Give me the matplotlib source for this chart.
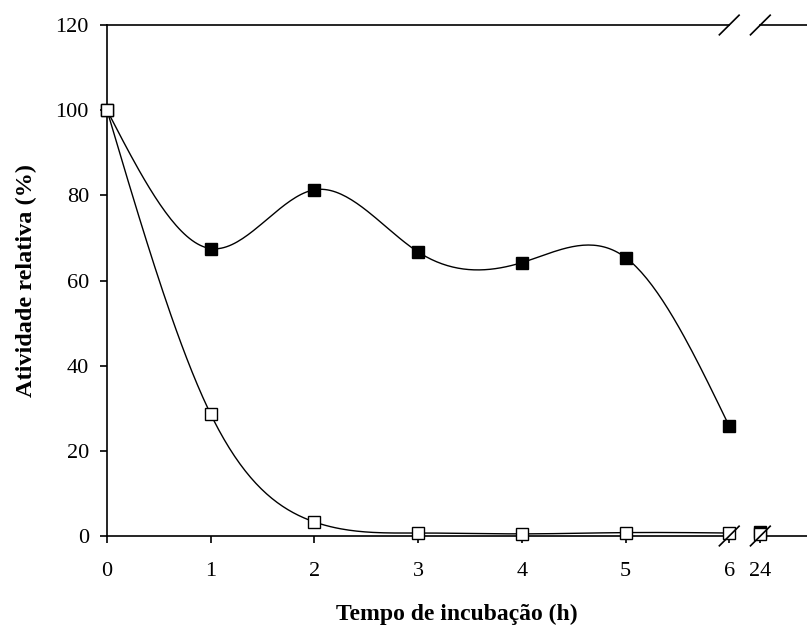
import numpy as np
import matplotlib
matplotlib.use("Agg")
import matplotlib.pyplot as plt

plt.rcParams['font.family'] = ['Liberation Serif', 'DejaVu Serif']

hours = [0, 1, 2, 3, 4, 5, 6]
hour_labels = ['0', '1', '2', '3', '4', '5', '6', '24']
filled = [100, 67.5, 81.3, 66.7, 64.2, 65.4, 25.8]
filled_24 = 1.0
opened = [100, 28.6, 3.3, 0.7, 0.5, 0.8, 0.7]
opened_24 = 0.5

POS24 = 6.3   # where "24" sits after the axis break
XMAX = 6.75


def smooth(x, y, n=40):
    # natural cubic spline
    x = np.asarray(x, float)
    y = np.asarray(y, float)
    k = len(x)
    h = np.diff(x)
    A = np.zeros((k, k))
    b = np.zeros(k)
    A[0, 0] = A[-1, -1] = 1
    for i in range(1, k - 1):
        A[i, i - 1] = h[i - 1]
        A[i, i] = 2 * (h[i - 1] + h[i])
        A[i, i + 1] = h[i]
        b[i] = 6 * ((y[i + 1] - y[i]) / h[i] - (y[i] - y[i - 1]) / h[i - 1])
    M = np.linalg.solve(A, b)
    ox, oy = [], []
    for i in range(k - 1):
        xs = np.linspace(x[i], x[i + 1], n)
        a = x[i + 1] - xs
        c = xs - x[i]
        ys = (M[i] * a ** 3 / 6 / h[i] + M[i + 1] * c ** 3 / 6 / h[i]
              + (y[i] / h[i] - M[i] * h[i] / 6) * a
              + (y[i + 1] / h[i] - M[i + 1] * h[i] / 6) * c)
        ox.extend(xs)
        oy.extend(ys)
    return ox, oy


fig = plt.figure(figsize=(8.07, 6.28), dpi=100)
ax = fig.add_axes([107 / 807, 1 - 536 / 628, 700 / 807, 511 / 628])

sx, sy = smooth(hours, filled)
ax.plot(sx, sy, color='black', lw=1, zorder=2, clip_on=False)
sx, sy = smooth(hours, opened)
ax.plot(sx, sy, color='black', lw=1, zorder=2, clip_on=False)

ax.plot(hours + [POS24], filled + [filled_24], 's', ms=8,
        mfc='black', mec='black', mew=1, ls='none', zorder=4, clip_on=False)
ax.plot(hours + [POS24], opened + [opened_24], 's', ms=8,
        mfc='white', mec='black', mew=1, ls='none', zorder=5, clip_on=False)

ax.set_xlim(0, XMAX)
ax.set_ylim(0, 120)
ax.spines['right'].set_visible(False)
ax.spines['top'].set_visible(False)
ax.spines['bottom'].set_visible(False)
ax.spines['left'].set_linewidth(1.2)

# broken top and bottom axis lines
for yy in (0, 120):
    ax.plot([0, 6], [yy, yy], color='black', lw=1.2, clip_on=False, zorder=1)
    ax.plot([POS24, XMAX], [yy, yy], color='black', lw=1.2, clip_on=False, zorder=1)
    for xx in (6, POS24):
        ax.plot([xx - 0.095, xx + 0.095], [yy - 2.3, yy + 2.3], color='black',
                lw=1.2, clip_on=False, zorder=6)

ax.set_xticks(hours + [POS24])
ax.set_xticklabels(hour_labels)
ax.set_yticks(range(0, 121, 20))
ax.tick_params(axis='both', direction='out', length=5, width=1.2, labelsize=16)
ax.tick_params(axis='x', pad=14)
ax.tick_params(axis='y', pad=8)

ax.set_xlabel('Tempo de incubação (h)', fontsize=17, fontweight='bold', labelpad=16)
ax.set_ylabel('Atividade relativa (%)', fontsize=17.5, fontweight='bold', labelpad=13)

fig.savefig('out.png', dpi=100)
